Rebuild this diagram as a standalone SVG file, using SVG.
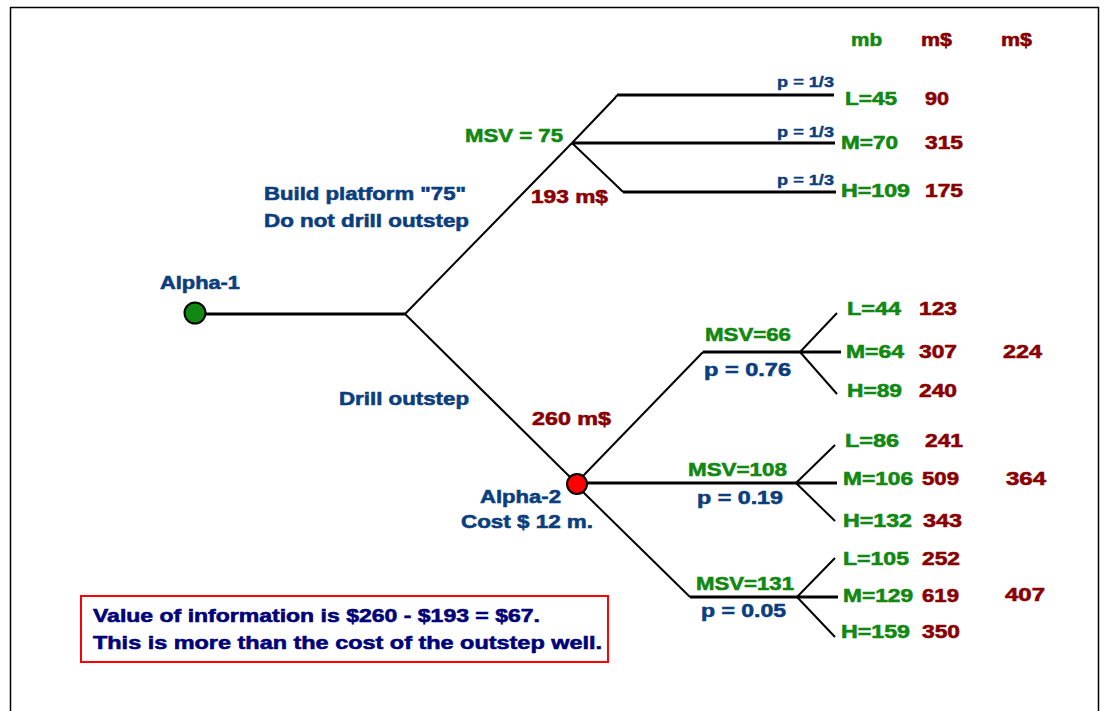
<svg xmlns="http://www.w3.org/2000/svg" width="1109" height="711" viewBox="0 0 1109 711">
<style>
text{font-family:"Liberation Sans",Arial,sans-serif;font-weight:bold;font-size:19px;stroke-width:0.6}
.g{fill:#118811;stroke:#118811}
.r{fill:#880000;stroke:#880000}
.b{fill:#0B3E7E;stroke:#0B3E7E}
.n{fill:#00007A;stroke:#00007A}
.s{font-size:15px;stroke-width:0.4}
.ln{stroke:#000;stroke-width:2;fill:none}
.h{stroke:#000;stroke-width:3;fill:none}
</style>
<rect x="0" y="0" width="1109" height="711" fill="#fff"/>
<path d="M10.5 711 V7.5 H1098.5 V711" fill="none" stroke="#000" stroke-width="1.5"/>
<g id="connectors">
<line class="h" x1="205" y1="314" x2="405" y2="314"/>
<line class="ln" x1="405" y1="314" x2="572" y2="143"/>
<line class="ln" x1="405" y1="314" x2="570" y2="477"/>
<polyline class="ln" points="572,143 615,98 617,95"/>
<line class="h" x1="617" y1="95" x2="834" y2="95"/>
<line class="h" x1="572" y1="143" x2="835" y2="143"/>
<polyline class="ln" points="572,143 619,188 623,192"/>
<line class="h" x1="623" y1="192" x2="836" y2="192"/>
<line class="ln" x1="582" y1="477" x2="703" y2="352"/>
<line class="h" x1="703" y1="352" x2="841" y2="352"/>
<line class="ln" x1="800" y1="352" x2="837" y2="313"/>
<line class="ln" x1="800" y1="352" x2="837" y2="394"/>
<line class="h" x1="586" y1="483" x2="837" y2="483"/>
<line class="ln" x1="796" y1="483" x2="835" y2="445"/>
<line class="ln" x1="796" y1="483" x2="835" y2="521"/>
<line class="ln" x1="583" y1="492" x2="690" y2="597"/>
<line class="h" x1="690" y1="597" x2="838" y2="597"/>
<line class="ln" x1="797" y1="597" x2="835" y2="558"/>
<line class="ln" x1="797" y1="597" x2="835" y2="637"/>
</g>
<g id="alpha1">
<circle cx="195" cy="313" r="10.5" fill="#118811" stroke="#000" stroke-width="2"/>
<text class="b" x="160" y="289" textLength="80" lengthAdjust="spacingAndGlyphs">Alpha-1</text>
</g>
<g id="alpha2">
<circle cx="577" cy="484" r="10" fill="#FF0000" stroke="#000" stroke-width="2"/>
<text class="b" x="480" y="503" textLength="81" lengthAdjust="spacingAndGlyphs">Alpha-2</text>
<text class="b" x="461" y="528" textLength="132" lengthAdjust="spacingAndGlyphs">Cost $ 12 m.</text>
</g>
<g id="labels">
<text class="b" x="264" y="200" textLength="202" lengthAdjust="spacingAndGlyphs">Build platform "75"</text>
<text class="b" x="264" y="227" textLength="205" lengthAdjust="spacingAndGlyphs">Do not drill outstep</text>
<text class="b" x="339" y="405" textLength="130" lengthAdjust="spacingAndGlyphs">Drill outstep</text>
<text class="r" x="532" y="425" textLength="79" lengthAdjust="spacingAndGlyphs">260 m$</text>
<text class="g" x="465" y="142" textLength="98" lengthAdjust="spacingAndGlyphs">MSV = 75</text>
<text class="r" x="531" y="203" textLength="77" lengthAdjust="spacingAndGlyphs">193 m$</text>
</g>
<g id="headers">
<text class="g" x="851" y="46" textLength="31" lengthAdjust="spacingAndGlyphs">mb</text>
<text class="r" x="921" y="46" textLength="31" lengthAdjust="spacingAndGlyphs">m$</text>
<text class="r" x="1001" y="46" textLength="31" lengthAdjust="spacingAndGlyphs">m$</text>
</g>
<g id="msv75">
<text class="b s" x="777" y="87" textLength="57" lengthAdjust="spacingAndGlyphs">p = 1/3</text>
<text class="b s" x="777" y="137" textLength="57" lengthAdjust="spacingAndGlyphs">p = 1/3</text>
<text class="b s" x="777" y="185" textLength="57" lengthAdjust="spacingAndGlyphs">p = 1/3</text>
<text class="g" x="845" y="105" textLength="52" lengthAdjust="spacingAndGlyphs">L=45</text>
<text class="r" x="925" y="105" textLength="24" lengthAdjust="spacingAndGlyphs">90</text>
<text class="g" x="841" y="149" textLength="57" lengthAdjust="spacingAndGlyphs">M=70</text>
<text class="r" x="925" y="149" textLength="38" lengthAdjust="spacingAndGlyphs">315</text>
<text class="g" x="841" y="197" textLength="69" lengthAdjust="spacingAndGlyphs">H=109</text>
<text class="r" x="925" y="197" textLength="38" lengthAdjust="spacingAndGlyphs">175</text>
</g>
<g id="msv66">
<text class="g" x="705" y="341" textLength="86" lengthAdjust="spacingAndGlyphs">MSV=66</text>
<text class="b" x="704" y="376" textLength="87" lengthAdjust="spacingAndGlyphs">p = 0.76</text>
<text class="g" x="847" y="315" textLength="54" lengthAdjust="spacingAndGlyphs">L=44</text>
<text class="r" x="919" y="315" textLength="38" lengthAdjust="spacingAndGlyphs">123</text>
<text class="g" x="846" y="358" textLength="58" lengthAdjust="spacingAndGlyphs">M=64</text>
<text class="r" x="919" y="358" textLength="38" lengthAdjust="spacingAndGlyphs">307</text>
<text class="r" x="1003" y="358" textLength="39" lengthAdjust="spacingAndGlyphs">224</text>
<text class="g" x="847" y="397" textLength="55" lengthAdjust="spacingAndGlyphs">H=89</text>
<text class="r" x="919" y="397" textLength="38" lengthAdjust="spacingAndGlyphs">240</text>
</g>
<g id="msv108">
<text class="g" x="688" y="476" textLength="99" lengthAdjust="spacingAndGlyphs">MSV=108</text>
<text class="b" x="697" y="504" textLength="86" lengthAdjust="spacingAndGlyphs">p = 0.19</text>
<text class="g" x="845" y="447" textLength="54" lengthAdjust="spacingAndGlyphs">L=86</text>
<text class="r" x="925" y="447" textLength="38" lengthAdjust="spacingAndGlyphs">241</text>
<text class="g" x="843" y="485" textLength="70" lengthAdjust="spacingAndGlyphs">M=106</text>
<text class="r" x="922" y="485" textLength="37" lengthAdjust="spacingAndGlyphs">509</text>
<text class="r" x="1006" y="485" textLength="40" lengthAdjust="spacingAndGlyphs">364</text>
<text class="g" x="843" y="527" textLength="69" lengthAdjust="spacingAndGlyphs">H=132</text>
<text class="r" x="923" y="527" textLength="39" lengthAdjust="spacingAndGlyphs">343</text>
</g>
<g id="msv131">
<text class="g" x="696" y="590" textLength="98" lengthAdjust="spacingAndGlyphs">MSV=131</text>
<text class="b" x="701" y="617" textLength="85" lengthAdjust="spacingAndGlyphs">p = 0.05</text>
<text class="g" x="843" y="565" textLength="66" lengthAdjust="spacingAndGlyphs">L=105</text>
<text class="r" x="922" y="565" textLength="38" lengthAdjust="spacingAndGlyphs">252</text>
<text class="g" x="843" y="602" textLength="70" lengthAdjust="spacingAndGlyphs">M=129</text>
<text class="r" x="922" y="602" textLength="37" lengthAdjust="spacingAndGlyphs">619</text>
<text class="r" x="1005" y="601" textLength="40" lengthAdjust="spacingAndGlyphs">407</text>
<text class="g" x="841" y="638" textLength="69" lengthAdjust="spacingAndGlyphs">H=159</text>
<text class="r" x="922" y="638" textLength="38" lengthAdjust="spacingAndGlyphs">350</text>
</g>
<g id="note">
<rect x="81" y="596" width="527" height="66" fill="#fff" stroke="#FF0000" stroke-width="2"/>
<text class="n" x="93" y="622" textLength="447" lengthAdjust="spacingAndGlyphs">Value of information is $260 - $193 = $67.</text>
<text class="n" x="93" y="649" textLength="509" lengthAdjust="spacingAndGlyphs">This is more than the cost of the outstep well.</text>
</g>
</svg>
